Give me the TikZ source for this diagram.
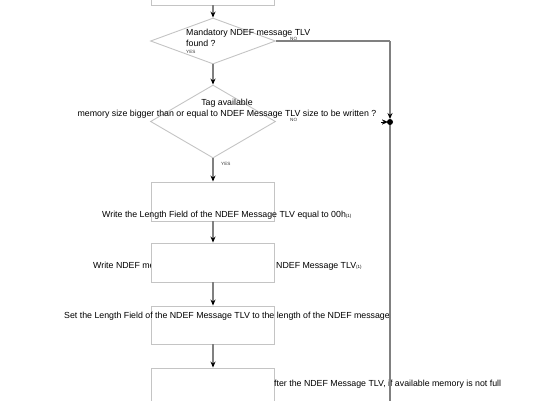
\documentclass[tikz,border=0pt]{standalone}
\usepackage{fontspec}
\setmainfont{Liberation Sans}
\usetikzlibrary{shapes.geometric,arrows.meta}
\definecolor{boxgray}{HTML}{C4C4C4}
\definecolor{linegray}{HTML}{808080}
\tikzset{
  procbox/.style={draw=boxgray,line width=0.9pt,fill=white,rectangle,minimum width=123pt,inner sep=0pt},
  decision/.style={draw=boxgray,line width=0.9pt,diamond,inner sep=0pt,minimum width=125pt},
  txt/.style={font=\fontsize{8.8}{10}\selectfont,inner sep=0pt,anchor=base west},
  ctxt/.style={font=\fontsize{8.8}{10}\selectfont,inner sep=0pt,anchor=base},
  tiny/.style={font=\fontsize{4.6}{5}\selectfont,inner sep=0pt,text=black!80},
  flow/.style={draw=linegray,line width=1.3pt,-{Stealth[length=6pt,width=5pt,color=black]}},
  wire/.style={draw=linegray,line width=1.3pt}
}
\newcommand{\smallsub}[1]{{\fontsize{4.5}{5}\selectfont #1}}
\begin{document}
\begin{tikzpicture}[x=1pt,y=-1pt]
\useasboundingbox (0,0) rectangle (540,400);
\clip (0,0) rectangle (540,400);
% boxes and diamonds
\node[procbox,minimum height=45pt] (b0) at (213,-17.5) {};
\node[decision,minimum height=46pt] (d1) at (213,41) {};
\node[decision,minimum height=73pt] (d2) at (213,121.5) {};
\node[procbox,minimum height=39pt] (b1) at (213,201.5) {};
\node[procbox,minimum height=38pt] (b3) at (213,325) {};
\node[procbox,minimum height=50pt] (b4) at (213,393) {};
% texts
\node[txt] (t1a) at (186,35) {Mandatory NDEF message TLV};
\node[txt] (t1b) at (186,46) {found ?};
\node[tiny,anchor=west] (y1) at (186,52) {YES};
\node[tiny,anchor=west] (n1) at (290,38.5) {NO};
\node[ctxt] (t2a) at (227,105) {Tag available};
\node[ctxt] (t2b) at (227,116) {memory size bigger than or equal to NDEF Message TLV size to be written ?};
\node[tiny,anchor=west] (n2) at (290,119.5) {NO};
\node[tiny,anchor=west] (y2) at (221,164) {YES};
\node[txt] (t3) at (102,217) {Write the Length Field of the NDEF Message TLV equal to 00h\smallsub{(1)}};
\node[txt] (t4a) at (93,268) {Write NDEF me};
\node[procbox,minimum height=39pt] (b2) at (213,262.5) {};
\node[txt] (t4b) at (276,268) {NDEF Message TLV\smallsub{(1)}};
\node[txt] (t5) at (64,318) {Set the Length Field of the NDEF Message TLV to the length of the NDEF message};
\node[txt] (t6) at (274,386) {fter the NDEF Message TLV, if available memory is not full};
% connectors
\coordinate (jr) at (390,41);
\coordinate (j) at (390,122);
\coordinate (jin) at (381,122);
\coordinate (bot) at (390,402);
\draw[flow] (b0.south) -- (d1.north);
\draw[flow] (d1.south) -- (d2.north);
\draw[flow] (d2.south) -- (b1.north);
\draw[flow] (b1.south) -- (b2.north);
\draw[flow] (b2.south) -- (b3.north);
\draw[flow] (b3.south) -- (b4.north);
\draw[wire] (d1.east) -- (jr);
\draw[flow,shorten >=3pt] (jr) -- (j);
\draw[wire] (j) -- (bot);
\draw[flow,line width=0.1pt,draw=black,shorten >=2pt] (jin) -- (j);
\fill[black] (j) circle (3pt);
\end{tikzpicture}
\end{document}
